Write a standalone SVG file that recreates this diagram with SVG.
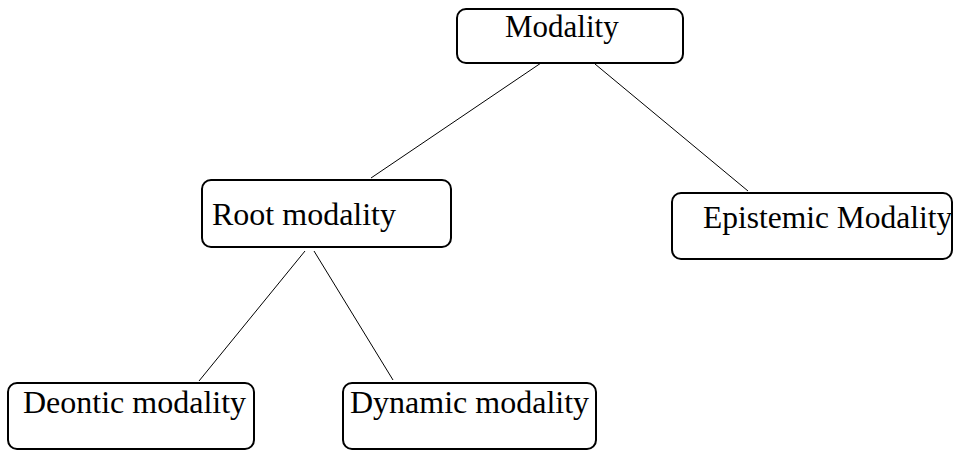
<svg xmlns="http://www.w3.org/2000/svg" width="954" height="450" viewBox="0 0 954 450">
<style>
.box{fill:#fff;stroke:#000;stroke-width:2}
.lbl{font-family:"Liberation Serif","Times New Roman",serif;font-size:32px;fill:#000}
.conn line{stroke:#000;stroke-width:1}
</style>
<rect width="954" height="450" fill="#fff"/>
<g class="conn">
<line x1="541" y1="63" x2="371" y2="178"/>
<line x1="595" y1="64" x2="748" y2="191"/>
<line x1="305" y1="251" x2="199" y2="381"/>
<line x1="314" y1="251" x2="393" y2="380"/>
</g>
<g id="modality">
<rect class="box" x="457" y="9" width="226" height="54" rx="9"/>
<text class="lbl" x="505" y="37" style="font-size:31px">Modality</text>
</g>
<g id="root">
<rect class="box" x="202" y="180" width="249" height="67" rx="9"/>
<text class="lbl" x="212" y="225">Root modality</text>
</g>
<g id="epistemic">
<rect class="box" x="672" y="193" width="280" height="66" rx="9"/>
<text class="lbl" x="703" y="228" style="font-size:31.5px">Epistemic Modality</text>
</g>
<g id="deontic">
<rect class="box" x="8" y="383" width="246" height="66" rx="9"/>
<text class="lbl" x="23" y="413">Deontic modality</text>
</g>
<g id="dynamic">
<rect class="box" x="343" y="383" width="253" height="66" rx="9"/>
<text class="lbl" x="350" y="413">Dynamic modality</text>
</g>
</svg>
